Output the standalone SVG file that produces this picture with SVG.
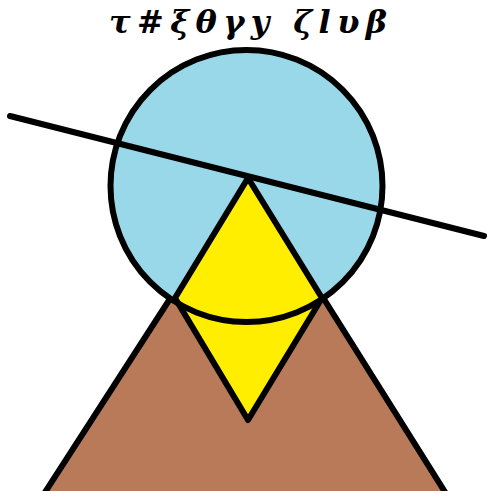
<svg xmlns="http://www.w3.org/2000/svg" width="491" height="491" viewBox="0 0 491 491">
<style>
.s{stroke:#000;stroke-width:6;stroke-linejoin:round;stroke-linecap:round}
.t{font-family:"DejaVu Serif","Liberation Serif",serif;font-weight:bold;font-style:italic;font-size:32px;text-anchor:middle}
</style>
<rect width="491" height="491" fill="#fff"/>
<polygon class="s" points="248,178 40,500 450,500" fill="#b87a58"/>
<circle cx="246.5" cy="186" r="136" fill="#99d8e8"/>
<polygon class="s" points="248,178 175,298 248,420 322,298" fill="#ffee00"/>
<circle cx="246.5" cy="186" r="136" fill="none" class="s"/>
<line class="s" x1="10" y1="116" x2="484" y2="236"/>
<text class="t" x="248" y="33" textLength="278" lengthAdjust="spacing">τ#ξθγy ζlυβ</text>
</svg>
